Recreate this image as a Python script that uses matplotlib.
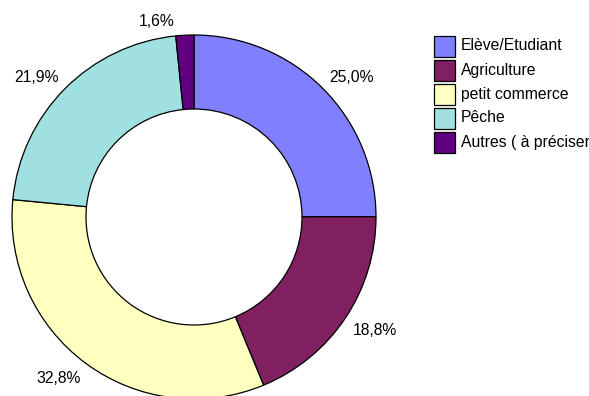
import numpy as np
import matplotlib
matplotlib.use("Agg")
import matplotlib.pyplot as plt
from matplotlib.patches import Rectangle

# données
categories = ["Elève/Etudiant", "Agriculture", "petit commerce", "Pêche", "Autres ( à préciser"]
values = [25.0, 18.8, 32.8, 21.9, 1.6]
pct_labels = ["25,0%", "18,8%", "32,8%", "21,9%", "1,6%"]
colors = ["#8080FF", "#802060", "#FFFFC0", "#A0E0E0", "#600080"]

plt.rcParams["font.family"] = ["Liberation Sans", "DejaVu Sans"]

W, H = 589, 396
fig = plt.figure(figsize=(W / 100, H / 100), dpi=100)
ax = fig.add_axes([0, 0, 1, 1])

cx, cy = 194, H - 217
R = 182
ring = 74

wedges, _ = ax.pie(values, colors=colors, startangle=90, counterclock=False,
                   center=(cx, cy), radius=R, frame=True,
                   wedgeprops=dict(width=ring, edgecolor="black", linewidth=0.9))
ax.set_xlim(0, W)
ax.set_ylim(0, H)
ax.set_aspect("equal")
ax.axis("off")

# étiquettes de pourcentage, ancrées juste à l'extérieur de l'anneau (à la Excel)
total = sum(values)
start = 90.0
for v, lab in zip(values, pct_labels):
    mid = start - v / total * 360 / 2
    start -= v / total * 360
    c, s = np.cos(np.radians(mid)), np.sin(np.radians(mid))
    x = cx + R * 1.05 * c
    y = cy + R * 1.05 * s
    if v < 5:
        x -= 10  # petite part : Excel décale l'étiquette vers la gauche
    ax.text(x, y, lab, ha="left" if c > 0 else "right",
            va="baseline" if s > 0 else "top", fontsize=11.3, color="black")

# légende
lx, ly0, box, pitch = 434, H - 46, 21, 24
for i, (c, name) in enumerate(zip(colors, categories)):
    y = ly0 - i * pitch
    ax.add_patch(Rectangle((lx, y - box / 2), box, box, facecolor=c,
                           edgecolor="black", linewidth=0.9, clip_on=False))
    ax.text(lx + 27, y, name, ha="left", va="center", fontsize=11.3, color="black")

fig.savefig("out.png", dpi=100)
